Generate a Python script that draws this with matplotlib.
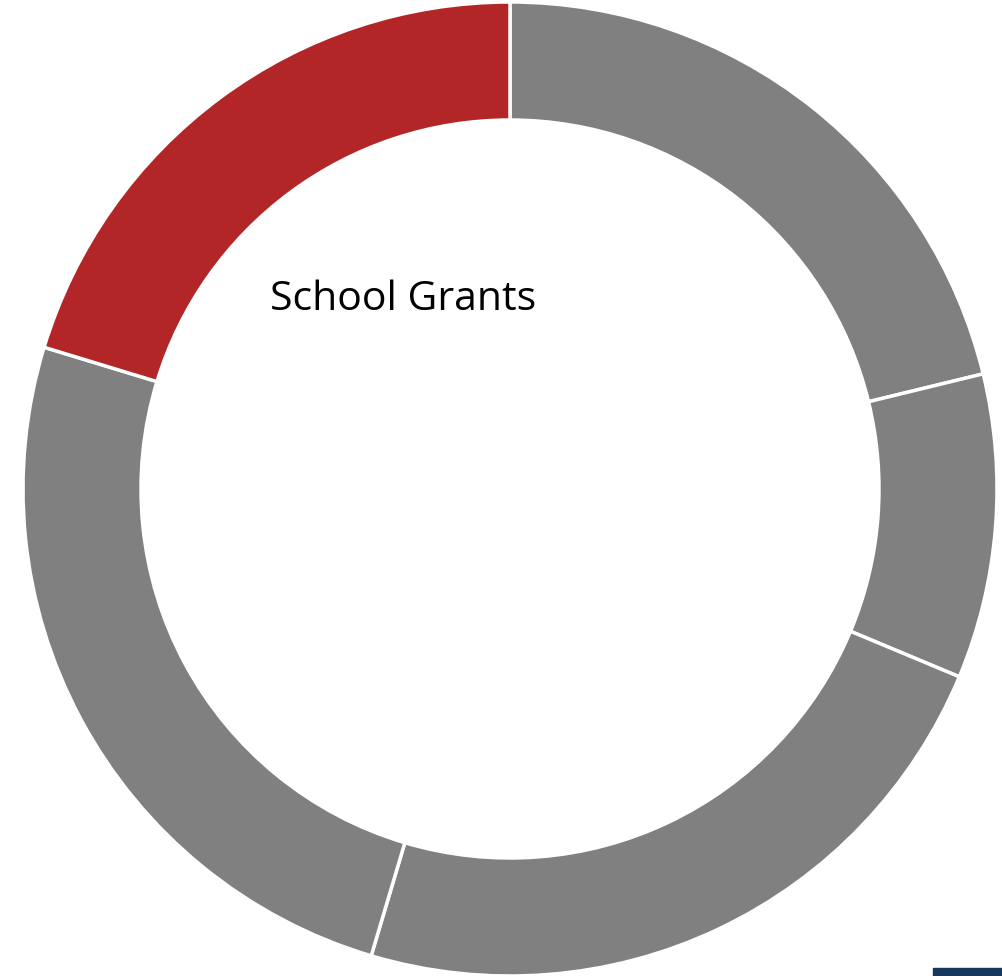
import numpy as np
import matplotlib.pyplot as plt
from matplotlib.patches import Rectangle

# donut shares (clockwise from 12 o'clock)
segments = ['Segment A', 'Segment B', 'Segment C', 'Segment D', 'School Grants']
shares = [21.2, 10.1, 23.3, 25.1, 20.3]
colors = ['#808080', '#808080', '#808080', '#808080', '#B22627']

W, H = 1002, 976
fig = plt.figure(figsize=(W / 100, H / 100), dpi=100)
ax = fig.add_axes([0, 0, 1, 1])

outer_r = 487
ring_w = 118
ax.pie(shares, colors=colors, startangle=90, counterclock=False,
       center=(510, H - 489), radius=outer_r,
       wedgeprops=dict(width=ring_w, edgecolor='white', linewidth=2.5))

ax.set_xlim(0, W)
ax.set_ylim(0, H)
ax.set_aspect('auto')
ax.axis('off')

ax.text(403, H - 300, segments[-1], ha='center', va='center',
        fontsize=29.5, family='Open Sans', color='black')

# small navy bar cut off at the bottom right corner
fig.patches.append(Rectangle((933 / W, 0), 1, 8 / H, transform=fig.transFigure,
                             color='#17375E', zorder=5))

fig.savefig('out.png', dpi=100)
